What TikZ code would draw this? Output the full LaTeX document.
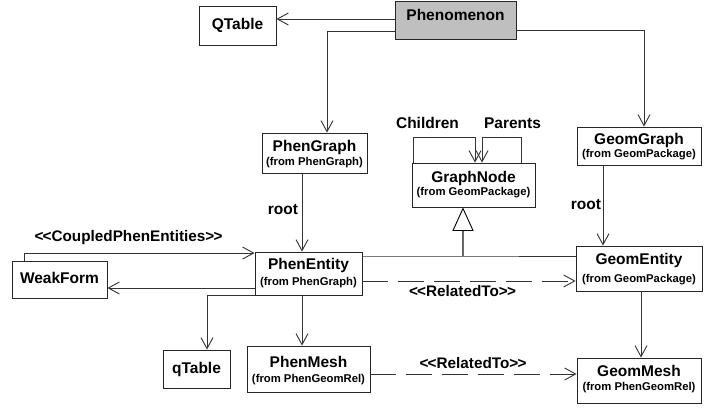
\documentclass[tikz,border=0pt]{standalone}
\usepackage{fontspec}
\setmainfont{Liberation Sans}
\usetikzlibrary{arrows.meta,calc}
\newcommand\stopen{<\kern-0.8pt<}
\newcommand\stclose{>\kern-0.8pt>}
\begin{document}
\begin{tikzpicture}[x=1pt,y=-1pt,
  box/.style={draw=black!85, line width=0.9pt, inner sep=0pt, fill=white},
  nm/.style={font=\fontsize{15.5}{17}\selectfont\bfseries, inner sep=0pt},
  frm/.style={font=\fontsize{11.3}{13}\selectfont\bfseries, inner sep=0pt},
  lbl/.style={font=\fontsize{15.3}{17}\selectfont\bfseries, inner sep=0pt},
  blbl/.style={font=\fontsize{15.5}{17}\selectfont\bfseries, inner sep=0pt},
  conn/.style={draw=black!80, line width=0.9pt, -{Straight Barb[length=11pt,width=12pt,line width=0.9pt]}},
  dconn/.style={conn, dash pattern=on 26pt off 10pt},
  gen/.style={draw=black!60, line width=2pt},
  genline/.style={draw=black!80, line width=0.9pt},
]
\useasboundingbox (0,0) rectangle (728,412);
\fill[white] (0,0) rectangle (728,412);

% boxes
\node[box, minimum width=77pt, minimum height=39pt] (qtab) at (237.5,25.5) {};
\node[nm] (qtabT) at (237.5,25) {QTable};
\node[box, fill=black!25, minimum width=121pt, minimum height=38pt] (phen) at (455.5,20) {};
\node[nm] (phenT) at (455.5,15) {Phenomenon};
\node[box, minimum width=105pt, minimum height=40pt] (pgraph) at (314.5,153) {};
\node[nm] (pgraphT) at (314.5,147) {PhenGraph};
\node[frm] (pgraphF) at (314.5,163) {(from PhenGraph)};
\node[box, minimum width=123pt, minimum height=44pt] (gnode) at (473.5,185) {};
\node[nm] (gnodeT) at (473.5,178) {GraphNode};
\node[frm] (gnodeF) at (473.5,193) {(from GeomPackage)};
\node[box, minimum width=124pt, minimum height=38pt] (ggraph) at (639,146) {};
\node[nm] (ggraphT) at (639,140) {GeomGraph};
\node[frm] (ggraphF) at (639,155) {(from GeomPackage)};
\node[box, minimum width=95pt, minimum height=37pt] (weak) at (59.5,279.5) {};
\node[nm] (weakT) at (59.5,278) {WeakForm};
\node[box, minimum width=107pt, minimum height=43pt] (pent) at (308.5,273.5) {};
\node[nm] (pentT) at (308.5,265) {PhenEntity};
\node[frm] (pentF) at (308.5,283) {(from PhenGraph)};
\node[box, minimum width=126pt, minimum height=45pt] (gent) at (639,268.5) {};
\node[nm] (gentT) at (639,260) {GeomEntity};
\node[frm] (gentF) at (639,280) {(from GeomPackage)};
\node[box, minimum width=67pt, minimum height=38pt] (qtable) at (196.5,369) {};
\node[nm] (qtableT) at (196.5,369) {qTable};
\node[box, minimum width=123pt, minimum height=46pt] (pmesh) at (308.5,369) {};
\node[nm] (pmeshT) at (308.5,362) {PhenMesh};
\node[frm] (pmeshF) at (308.5,380) {(from PhenGeomRel)};
\node[box, minimum width=124pt, minimum height=45pt] (gmesh) at (639,380.5) {};
\node[nm] (gmeshT) at (639,371) {GeomMesh};
\node[frm] (gmeshF) at (639,388) {(from PhenGeomRel)};

% connectors
\draw[conn] ([yshift=1pt]phen.west) -- ([yshift=1pt]phen.west -| qtab.east);
\draw[conn] ([yshift=-11pt]phen.west) -| ([xshift=12.5pt]pgraph.north);
\draw[conn] ([yshift=-10pt]phen.east) -| ([xshift=5pt]ggraph.north);
\draw[conn] ([xshift=-12.5pt]pgraph.south) -- ([xshift=-6.5pt]pent.north);
\draw[conn] ([xshift=-36pt]ggraph.south) -- ([xshift=-36pt]gent.north);
\draw[conn] ([yshift=-14.5pt]pent.west) -- ([yshift=-14.5pt]pent.west -| weak.east);
\draw[conn] ([xshift=-35.5pt]weak.north) |- ([yshift=-1.5pt]pent.north west);
\draw[conn] (pent.south west) -| ([xshift=10.5pt]qtable.north);
\draw[conn] ([xshift=-6.5pt]pent.south) -- ([xshift=-6.5pt]pmesh.north);
\draw[conn] ([xshift=2pt]gent.south) -- ([xshift=2pt]gmesh.north);
\draw[dconn] ([yshift=-7.5pt]pent.east) -- ([yshift=-7.5pt]pent.east -| gent.west);
\draw[dconn] ([yshift=-5pt]pmesh.east) -- ([yshift=-5pt]pmesh.east -| gmesh.west);

% self loops
\draw[conn] ([xshift=-60.5pt]gnode.north) -- ++(0,-25) -| ([xshift=1.5pt]gnode.north);
\draw[conn] ([xshift=47.5pt]gnode.north) -- ++(0,-25) -| ([xshift=8.5pt]gnode.north);

% generalization
\coordinate (gj) at (463,256);
\draw[genline] ([yshift=17.5pt]pent.east) -- (gj) -- ([yshift=12.5pt]gent.west);
\draw[gen] (gj) -- ($(gj |- gnode.south)+(0,22)$);
\draw[line width=0.9pt, draw=black, fill=white] ($(gj |- gnode.south)+(0,1)$) -- ($(gj |- gnode.south)+(-10,23)$) -- ($(gj |- gnode.south)+(10,23)$) -- cycle;

% labels
\node[blbl] (lch) at (427.5,123) {Children};
\node[blbl] (lpa) at (512.5,123) {Parents};
\node[blbl] (lr1) at (283,210) {root};
\node[blbl] (lr2) at (586,205) {root};
\node[lbl] (lcp) at (128.5,238) {\stopen CoupledPhenEntities\stclose};
\node[lbl] (lrt1) at (462.5,291) {\stopen RelatedTo\stclose};
\node[lbl] (lrt2) at (473,363) {\stopen RelatedTo\stclose};
\end{tikzpicture}
\end{document}
